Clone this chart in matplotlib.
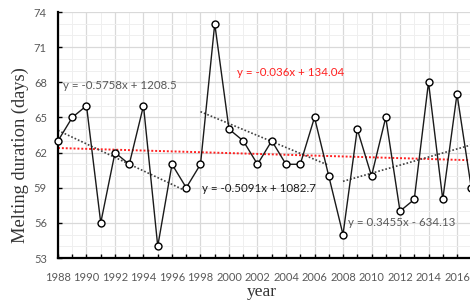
import numpy as np
import matplotlib
matplotlib.use("Agg")
import matplotlib.pyplot as plt
from matplotlib.ticker import MultipleLocator, FixedLocator

years = list(range(1988, 2018))
duration = [63, 65, 66, 56, 62, 61, 66, 54, 61, 59,
            61, 73, 64, 63, 61, 63, 61, 61, 65, 60,
            55, 64, 60, 65, 57, 58, 68, 58, 67, 59]
segments = [(1988, 1997), (1998, 2007), (2008, 2017)]
seg_labels = ["y = -0.5758x + 1208.5", "y = -0.5091x + 1082.7", "y = 0.3455x - 634.13"]
overall_label = "y = -0.036x + 134.04"
y_ticks = [53, 56, 59, 62, 65, 68, 71, 74]

x = np.array(years)
y = np.array(duration)

fig = plt.figure(figsize=(4.7, 3.0), dpi=100)
ax = fig.add_axes([58/470, 42/300, 1 - 58/470, 246/300])

ax.set_xlim(1988, 1988 + (470 - 58) / 14.25)
ax.set_ylim(53, 74)
ax.xaxis.set_major_locator(MultipleLocator(2))
ax.xaxis.set_minor_locator(MultipleLocator(1))
ax.yaxis.set_major_locator(FixedLocator(y_ticks))
ax.yaxis.set_minor_locator(MultipleLocator(1))
ax.grid(which="major", color="#d9d9d9", lw=0.9)
ax.grid(which="minor", color="#efefef", lw=0.7)
ax.set_axisbelow(True)

for s in ["top", "right"]:
    ax.spines[s].set_visible(False)
for s in ["left", "bottom"]:
    ax.spines[s].set_linewidth(1.6)
    ax.spines[s].set_color("black")

ax.tick_params(axis="x", which="both", direction="in", length=3, width=1, pad=10, colors="black", labelcolor="#595959")
ax.tick_params(axis="y", which="major", direction="in", length=3, width=1, pad=8, labelcolor="#595959")
ax.tick_params(axis="y", which="minor", length=0)
for lab in ax.get_xticklabels() + ax.get_yticklabels():
    lab.set_fontfamily("Lato")
    lab.set_fontsize(8)

# overall trend
p = np.polyfit(x, y, 1)
ax.plot(x, np.polyval(p, x), color="#ff2020", ls=(0, (1, 1)), lw=1.4, zorder=2, clip_on=False)

# segment trends
for (a, b) in segments:
    m = (x >= a) & (x <= b)
    ps = np.polyfit(x[m], y[m], 1)
    ax.plot(x[m], np.polyval(ps, x[m]), color="#404040", ls=(0, (1, 1.2)), lw=1.2, zorder=2, clip_on=True)

ax.plot(x, y, color="#1a1a1a", lw=1.0, marker="o", ms=5, mfc="white", mec="black", mew=1.0, zorder=3, clip_on=False)

ax.text(1988.35, 67.7, seg_labels[0], fontsize=8.3, family="Lato", color="#595959", va="center")
ax.text(1998.1, 58.96, seg_labels[1], fontsize=8.3, family="Lato", color="#1a1a1a", va="center")
ax.text(2008.35, 56.0, seg_labels[2], fontsize=8.3, family="Lato", color="#595959", va="center")
ax.text(2000.56, 68.8, overall_label, fontsize=8.3, family="Lato", color="#ff2020", va="center")

ax.set_xlabel("year", family="Liberation Serif", fontsize=12.5, color="#333333")
ax.set_ylabel("Melting duration (days)", family="Liberation Serif", fontsize=13.3, color="#333333", va="center")
ax.xaxis.set_label_coords((262 - 58) / 412, -26 / 246)
ax.yaxis.set_label_coords(-38 / 412, (258 - 155) / 246)

fig.savefig("out.png", dpi=100)
